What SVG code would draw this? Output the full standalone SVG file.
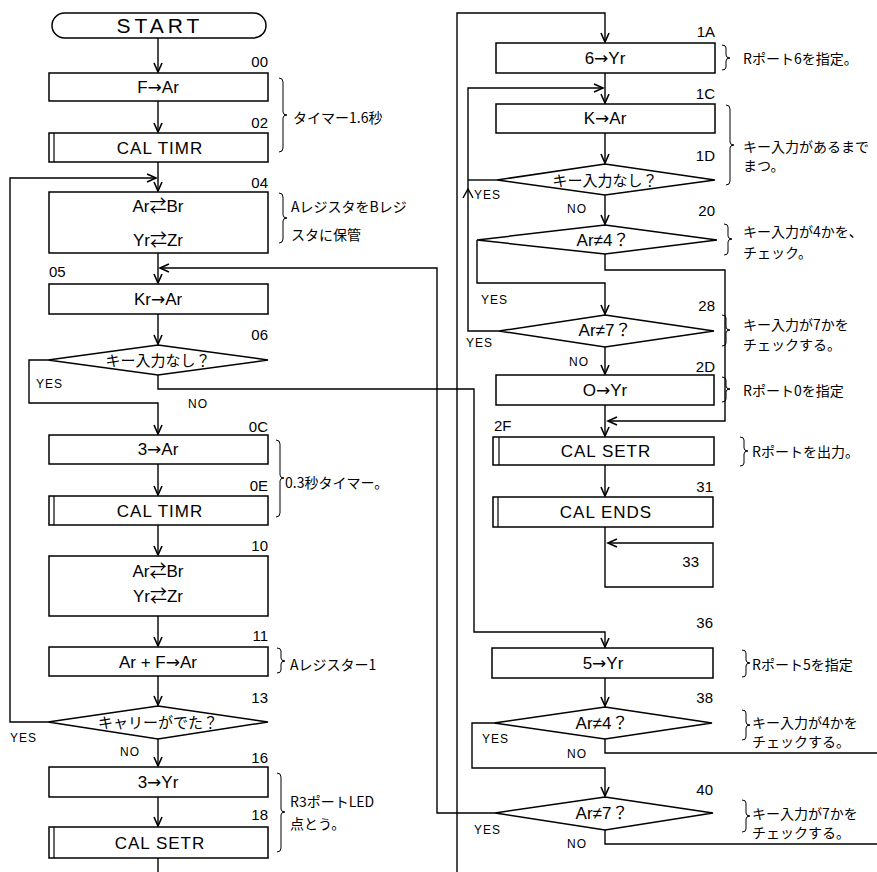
<svg xmlns="http://www.w3.org/2000/svg" width="877" height="872" viewBox="0 0 877 872">
<defs>
<style>
.bx{fill:#fff;stroke:#000;stroke-width:1.5}
.il{fill:none;stroke:#000;stroke-width:1.2}
.ln{fill:none;stroke:#000;stroke-width:1.4}
.ar{marker-end:url(#ah)}
.br{fill:none;stroke:#000;stroke-width:1}
.t{font-family:"Liberation Sans","Noto Sans CJK JP",sans-serif;font-size:17px;text-anchor:middle}
.a{font-family:"DejaVu Sans",sans-serif}
.c{letter-spacing:1px}
.n{font-family:"Liberation Sans Narrow","Liberation Sans",sans-serif;font-size:15px;text-anchor:end}
.ns{font-family:"Liberation Sans Narrow","Liberation Sans",sans-serif;font-size:15px}
.yn{font-family:"Liberation Sans",sans-serif;font-size:12px;letter-spacing:1px}
.jp{font-family:"Noto Sans CJK JP",sans-serif;font-size:14px}
.jd{font-family:"Liberation Sans","Noto Sans CJK JP",sans-serif;font-size:15px;text-anchor:middle}
</style>
<marker id="ah" viewBox="0 0 10 10" refX="10" refY="5" markerWidth="10" markerHeight="10" markerUnits="userSpaceOnUse" orient="auto" overflow="visible">
<path d="M1,1 L10,5 L1,9" fill="none" stroke="#000" stroke-width="1.6"/>
</marker>
</defs>
<rect width="877" height="872" fill="#fff"/>

<g id="connectors">
<path class="ln ar" d="M158,38 V72"/>
<path class="ln ar" d="M158,101 V132"/>
<path class="ln ar" d="M158,162 V191"/>
<path class="ln ar" d="M48,722 H10 V178 H156"/>
<path class="ln ar" d="M158,253 V283"/>
<path class="ln ar" d="M495,813 H437 V268 H160"/>
<path class="ln ar" d="M158,314 V344"/>
<path class="ln ar" d="M48,360 H29 V403 H158 V434"/>
<path class="ln ar" d="M158,375 V389 H474 V632 H605 V647"/>
<path class="ln ar" d="M158,464 V495"/>
<path class="ln ar" d="M158,525 V555"/>
<path class="ln ar" d="M158,616 V646"/>
<path class="ln ar" d="M158,676 V705"/>
<path class="ln ar" d="M158,739 V766"/>
<path class="ln ar" d="M158,797 V826"/>
<path class="ln" d="M158,858 V872"/>
<path class="ln ar" d="M457,872 V13 H605 V42"/>
<path class="ln ar" d="M605,73 V103"/>
<path class="ln ar" d="M499,331 H468 V88 H603"/>
<path class="ln" d="M497,180 H468"/>
<path class="ln" d="M463,198 L468,189 L473,198"/>
<path class="ln ar" d="M605,133 V163"/>
<path class="ln ar" d="M605,195 V224"/>
<path class="ln ar" d="M477,240 V283 H605 V314"/>
<path class="ln ar" d="M605,254 V270 H725 V421 H608"/>
<path class="ln ar" d="M605,347 V374"/>
<path class="ln ar" d="M605,405 V436"/>
<path class="ln ar" d="M605,465 V496"/>
<path class="ln ar" d="M605,527 V587 H713 V543 H608"/>
<path class="ln ar" d="M605,678 V706"/>
<path class="ln ar" d="M494,723 H472 V768 H605 V796"/>
<path class="ln" d="M605,739 V753 H877"/>
<path class="ln" d="M605,830 V844 H877"/>
<text class="yn" x="36" y="388">YES</text>
<text class="yn" x="188" y="408">NO</text>
<text class="yn" x="10" y="742">YES</text>
<text class="yn" x="120" y="756">NO</text>
<text class="yn" x="474" y="199">YES</text>
<text class="yn" x="567" y="213">NO</text>
<text class="yn" x="481" y="304">YES</text>
<text class="yn" x="466" y="347">YES</text>
<text class="yn" x="569" y="366">NO</text>
<text class="yn" x="482" y="743">YES</text>
<text class="yn" x="567" y="758">NO</text>
<text class="yn" x="474" y="834">YES</text>
<text class="yn" x="567" y="848">NO</text>
<text class="n" x="699" y="567">33</text>
</g>

<g id="start">
<rect class="bx" x="52" y="13" width="214" height="25" rx="12.5"/>
<text class="t" x="160" y="33" style="font-size:21px;letter-spacing:4px">START</text>
</g>
<g id="n00">
<text class="n" x="268" y="67">00</text>
<rect class="bx" x="49" y="73" width="219" height="28"/>
<text class="t" x="158" y="93">F<tspan class="a">→</tspan>Ar</text>
</g>
<g id="n02">
<text class="n" x="268" y="128">02</text>
<rect class="bx" x="49" y="133" width="219" height="29"/>
<line class="il" x1="54" y1="133" x2="54" y2="162"/>
<text class="t c" x="160" y="154">CAL TIMR</text>
</g>
<g id="n04">
<text class="n" x="268" y="188">04</text>
<rect class="bx" x="49" y="192" width="219" height="61"/>
<text class="t" x="158" y="212">Ar⇄Br</text>
<text class="t" x="158" y="246">Yr⇄Zr</text>
</g>
<g id="n05">
<text class="ns" x="49" y="277">05</text>
<rect class="bx" x="49" y="284" width="219" height="30"/>
<text class="t" x="158" y="305">Kr<tspan class="a">→</tspan>Ar</text>
</g>
<g id="n06">
<text class="n" x="268" y="340">06</text>
<polygon class="bx" points="158,345 268,360 158,375 48,360"/>
<text class="jd" x="158" y="366">キー入力なし？</text>
</g>
<g id="n0C">
<text class="n" x="268" y="432">0C</text>
<rect class="bx" x="49" y="435" width="219" height="29"/>
<text class="t" x="158" y="455">3<tspan class="a">→</tspan>Ar</text>
</g>
<g id="n0E">
<text class="n" x="268" y="491">0E</text>
<rect class="bx" x="49" y="496" width="219" height="29"/>
<line class="il" x1="54" y1="496" x2="54" y2="525"/>
<text class="t c" x="160" y="517">CAL TIMR</text>
</g>
<g id="n10">
<text class="n" x="268" y="551">10</text>
<rect class="bx" x="49" y="556" width="219" height="60"/>
<text class="t" x="158" y="577">Ar⇄Br</text>
<text class="t" x="158" y="602">Yr⇄Zr</text>
</g>
<g id="n11">
<text class="n" x="268" y="641">11</text>
<rect class="bx" x="49" y="647" width="219" height="29"/>
<text class="t" x="158" y="668">Ar + F<tspan class="a">→</tspan>Ar</text>
</g>
<g id="n13">
<text class="n" x="268" y="703">13</text>
<polygon class="bx" points="158,706 268,722 158,739 48,722"/>
<text class="jd" x="158" y="728">キャリーがでた？</text>
</g>
<g id="n16">
<text class="n" x="268" y="763">16</text>
<rect class="bx" x="49" y="767" width="219" height="30"/>
<text class="t" x="158" y="788">3<tspan class="a">→</tspan>Yr</text>
</g>
<g id="n18">
<text class="n" x="268" y="820">18</text>
<rect class="bx" x="49" y="827" width="219" height="31"/>
<line class="il" x1="54" y1="827" x2="54" y2="858"/>
<text class="t c" x="160" y="849">CAL SETR</text>
</g>

<g id="n1A">
<text class="n" x="715" y="37">1A</text>
<rect class="bx" x="496" y="43" width="219" height="30"/>
<text class="t" x="605" y="64">6<tspan class="a">→</tspan>Yr</text>
</g>
<g id="n1C">
<text class="n" x="715" y="99">1C</text>
<rect class="bx" x="496" y="104" width="219" height="29"/>
<text class="t" x="605" y="124">K<tspan class="a">→</tspan>Ar</text>
</g>
<g id="n1D">
<text class="n" x="715" y="161">1D</text>
<polygon class="bx" points="605,164 715,180 605,195 497,180"/>
<text class="jd" x="605" y="186">キー入力なし？</text>
</g>
<g id="n20">
<text class="n" x="715" y="216">20</text>
<polygon class="bx" points="605,225 717,240 605,254 477,240"/>
<text class="t" x="603" y="246">Ar≠4？</text>
</g>
<g id="n28">
<text class="n" x="715" y="311">28</text>
<polygon class="bx" points="605,315 714,331 605,347 499,331"/>
<text class="t" x="605" y="336">Ar≠7？</text>
</g>
<g id="n2D">
<text class="n" x="715" y="372">2D</text>
<rect class="bx" x="496" y="375" width="218" height="30"/>
<text class="t" x="605" y="396">O<tspan class="a">→</tspan>Yr</text>
</g>
<g id="n2F">
<text class="ns" x="494" y="431">2F</text>
<rect class="bx" x="493" y="437" width="221" height="28"/>
<line class="il" x1="499" y1="437" x2="499" y2="465"/>
<text class="t c" x="606" y="457">CAL SETR</text>
</g>
<g id="n31">
<text class="n" x="713" y="492">31</text>
<rect class="bx" x="493" y="497" width="220" height="30"/>
<line class="il" x1="498" y1="497" x2="498" y2="527"/>
<text class="t c" x="606" y="518">CAL ENDS</text>
</g>
<g id="n36">
<text class="n" x="713" y="628">36</text>
<rect class="bx" x="492" y="648" width="221" height="30"/>
<text class="t" x="603" y="669">5<tspan class="a">→</tspan>Yr</text>
</g>
<g id="n38">
<text class="n" x="713" y="703">38</text>
<polygon class="bx" points="605,707 712,723 605,739 494,723"/>
<text class="t" x="602" y="729">Ar≠4？</text>
</g>
<g id="n40">
<text class="n" x="713" y="795">40</text>
<polygon class="bx" points="605,797 713,813 605,830 495,813"/>
<text class="t" x="602" y="819">Ar≠7？</text>
</g>

<g id="notes">
<path class="br" d="M279,78 Q283,78 283,82 L283,112 Q283,115 287,115 Q283,115 283,118 L283,148 Q283,152 279,152"/>
<text class="jp" x="293" y="123">タイマー1.6秒</text>
<path class="br" d="M279,193 Q283,193 283,197 L283,215 Q283,218 287,218 Q283,218 283,221 L283,239 Q283,243 279,243"/>
<text class="jp" x="291" y="212">AレジスタをBレジ</text>
<text class="jp" x="291" y="240">スタに保管</text>
<path class="br" d="M276,440 Q280,440 280,444 L280,475 Q280,478 284,478 Q280,478 280,481 L280,513 Q280,517 276,517"/>
<text class="jp" x="285" y="488">0.3秒タイマー。</text>
<path class="br" d="M277,648 Q281,648 281,651 L281,658 Q281,661 285,661 Q281,661 281,664 L281,670 Q281,673 277,673"/>
<text class="jp" x="290" y="670">Aレジスター1</text>
<path class="br" d="M277,773 Q281,773 281,777 L281,809 Q281,812 285,812 Q281,812 281,815 L281,848 Q281,852 277,852"/>
<text class="jp" x="290" y="807">R3ポートLED</text>
<text class="jp" x="290" y="829">点とう。</text>
<path class="br" d="M722,45 Q726,45 726,48 L726,55 Q726,58 730,58 Q726,58 726,61 L726,67 Q726,70 722,70"/>
<text class="jp" x="743" y="64">Rポート6を指定。</text>
<path class="br" d="M726,105 Q730,105 730,109 L730,142 Q730,145 734,145 Q730,145 730,148 L730,181 Q730,185 726,185"/>
<text class="jp" x="743" y="152">キー入力があるまで</text>
<text class="jp" x="743" y="171">まつ。</text>
<path class="br" d="M724,224 Q728,224 728,227 L728,236 Q728,239 732,239 Q728,239 728,242 L728,252 Q728,255 724,255"/>
<text class="jp" x="743" y="237">キー入力が4かを、</text>
<text class="jp" x="743" y="258">チェック。</text>
<path class="br" d="M722,315 Q726,315 726,318 L726,327 Q726,330 730,330 Q726,330 726,333 L726,343 Q726,346 722,346"/>
<text class="jp" x="743" y="330">キー入力が7かを</text>
<text class="jp" x="743" y="350">チェックする。</text>
<path class="br" d="M722,377 Q726,377 726,380 L726,386 Q726,389 730,389 Q726,389 726,392 L726,399 Q726,402 722,402"/>
<text class="jp" x="743" y="396">Rポート0を指定</text>
<path class="br" d="M740,437 Q744,437 744,440 L744,448 Q744,451 748,451 Q744,451 744,454 L744,463 Q744,466 740,466"/>
<text class="jp" x="752" y="457">Rポートを出力。</text>
<path class="br" d="M742,650 Q746,650 746,653 L746,660 Q746,663 750,663 Q746,663 746,666 L746,674 Q746,677 742,677"/>
<text class="jp" x="752" y="670">Rポート5を指定</text>
<path class="br" d="M742,710 Q746,710 746,713 L746,722 Q746,725 750,725 Q746,725 746,728 L746,737 Q746,740 742,740"/>
<text class="jp" x="752" y="728">キー入力が4かを</text>
<text class="jp" x="752" y="747">チェックする。</text>
<path class="br" d="M742,800 Q746,800 746,803 L746,813 Q746,816 750,816 Q746,816 746,819 L746,829 Q746,832 742,832"/>
<text class="jp" x="752" y="819">キー入力が7かを</text>
<text class="jp" x="752" y="838">チェックする。</text>
</g>
</svg>
